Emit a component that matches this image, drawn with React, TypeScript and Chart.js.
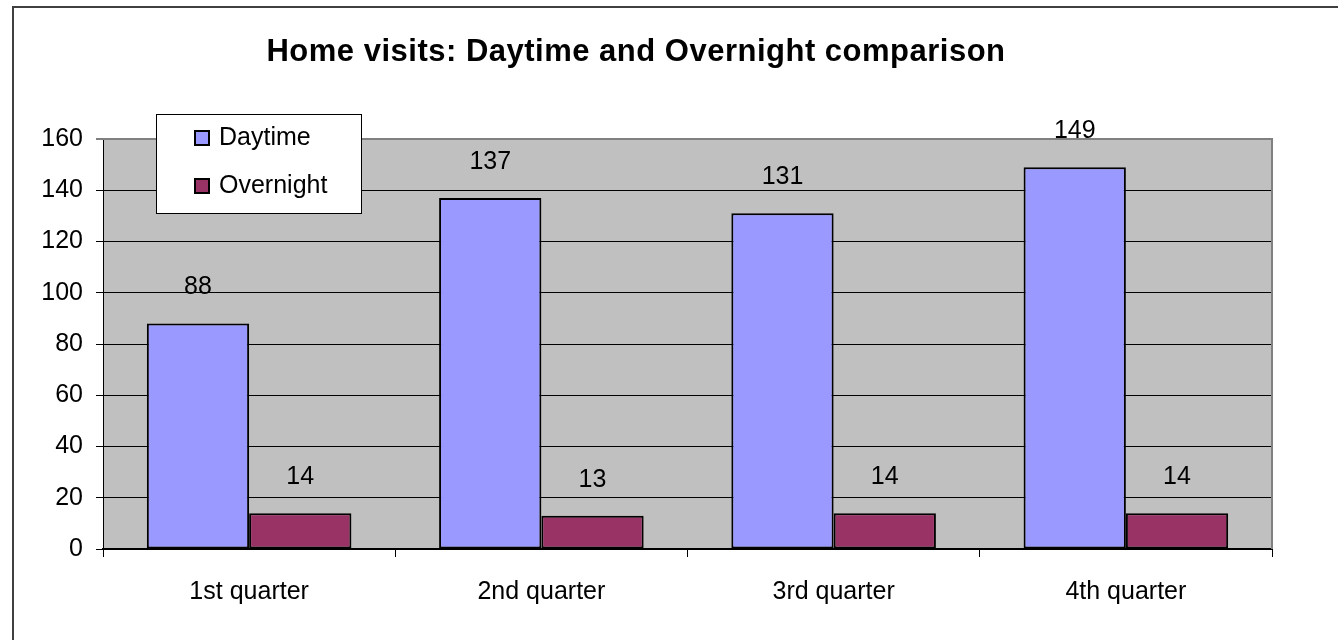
import React, { useEffect, useRef } from "react";
import { Chart, registerables } from "chart.js";

Chart.register(...registerables);

const chartTitle = "Home visits: Daytime and Overnight comparison";
const categories = ["1st quarter", "2nd quarter", "3rd quarter", "4th quarter"];
const seriesNames = ["Daytime", "Overnight"];
const daytimeValues = [88, 137, 131, 149];
const overnightValues = [14, 13, 14, 14];
const seriesColors = ["#9999FF", "#993366"];
const yMin = 0;
const yMax = 160;
const yStep = 20;

const FONT = "'Liberation Sans', Arial, sans-serif";

const decorPlugin = {
  id: "decor",
  beforeDraw(chart: any) {
    const { ctx, chartArea } = chart;
    ctx.save();
    ctx.fillStyle = "#C0C0C0";
    ctx.fillRect(chartArea.left, chartArea.top, chartArea.right - chartArea.left, chartArea.bottom - chartArea.top);
    ctx.restore();
  },
  afterDraw(chart: any) {
    const { ctx, chartArea } = chart;
    ctx.save();
    // plot border (grey) top & right
    ctx.strokeStyle = "#808080";
    ctx.lineWidth = 2;
    ctx.beginPath();
    ctx.moveTo(chartArea.left, chartArea.top);
    ctx.lineTo(chartArea.right, chartArea.top);
    ctx.lineTo(chartArea.right, chartArea.bottom);
    ctx.stroke();

    // outer border
    ctx.strokeStyle = "#404040";
    ctx.lineWidth = 2;
    ctx.strokeRect(13, 7, 1340, 640);

    // title
    ctx.fillStyle = "#000";
    ctx.font = `bold 31px ${FONT}`;
    ctx.textAlign = "center";
    ctx.textBaseline = "middle";
    try {
      (ctx as any).letterSpacing = "0.5px";
    } catch (e) {}
    ctx.fillText(chartTitle, 636, 52);
    try {
      (ctx as any).letterSpacing = "0px";
    } catch (e) {}

    // data labels
    ctx.font = `25px ${FONT}`;
    chart.data.datasets.forEach((ds: any, i: number) => {
      const meta = chart.getDatasetMeta(i);
      meta.data.forEach((el: any, j: number) => {
        ctx.fillText(String(ds.data[j]), el.x, el.y - 36);
      });
    });

    // legend
    ctx.fillStyle = "#FFFFFF";
    ctx.fillRect(156, 114, 205, 99);
    ctx.strokeStyle = "#000";
    ctx.lineWidth = 1;
    ctx.strokeRect(156.5, 114.5, 205, 99);
    const rows = [138, 186];
    seriesNames.forEach((name, i) => {
      const cy = rows[i];
      ctx.fillStyle = seriesColors[i];
      ctx.fillRect(195, cy - 7, 14, 14);
      ctx.strokeStyle = "#000";
      ctx.lineWidth = 2;
      ctx.strokeRect(195, cy - 7, 14, 14);
      ctx.fillStyle = "#000";
      ctx.font = `25px ${FONT}`;
      ctx.textAlign = "left";
      ctx.textBaseline = "middle";
      ctx.fillText(name, 219, cy);
    });
    ctx.restore();
  },
};

export default function App() {
  const canvasRef = useRef<HTMLCanvasElement | null>(null);

  useEffect(() => {
    if (!canvasRef.current) return;
    const chart = new Chart(canvasRef.current, {
      type: "bar",
      data: {
        labels: categories,
        datasets: [
          {
            label: seriesNames[0],
            data: daytimeValues,
            backgroundColor: seriesColors[0],
            borderColor: "#000",
            borderWidth: 2,
            borderSkipped: false,
            barPercentage: 1,
            categoryPercentage: 0.7,
          },
          {
            label: seriesNames[1],
            data: overnightValues,
            backgroundColor: seriesColors[1],
            borderColor: "#000",
            borderWidth: 2,
            borderSkipped: false,
            barPercentage: 1,
            categoryPercentage: 0.7,
          },
        ],
      },
      options: {
        responsive: false,
        animation: false,
        devicePixelRatio: 1,
        layout: { padding: { left: 0, top: 139, right: 66, bottom: 0 } },
        plugins: {
          legend: { display: false },
          title: { display: false },
          tooltip: { enabled: false },
        },
        scales: {
          x: {
            afterFit: (s: any) => {
              s.height = 91;
            },
            grid: {
              offset: true,
              drawOnChartArea: false,
              drawTicks: true,
              tickLength: 8,
              tickColor: "#000",
              color: "#000",
            },
            border: { display: true, color: "#000", width: 2 },
            ticks: {
              color: "#000",
              padding: 20,
              font: { family: FONT, size: 25 },
              maxRotation: 0,
            },
          },
          y: {
            min: yMin,
            max: yMax,
            afterFit: (s: any) => {
              s.width = 103;
            },
            grid: {
              color: (c: any) => (c.tick && c.tick.value === yMax ? "#808080" : "#000"),
              lineWidth: (c: any) => (c.tick && c.tick.value === yMax ? 2 : 1),
              drawTicks: true,
              tickLength: 7,
              tickColor: "#000",
              tickWidth: 1,
            },
            border: { display: true, color: "#000", width: 1 },
            ticks: {
              stepSize: yStep,
              color: "#000",
              padding: 13,
              font: { family: FONT, size: 25 },
            },
          },
        },
      },
      plugins: [decorPlugin],
    });
    return () => chart.destroy();
  }, []);

  return (
    <div style={{ position: "fixed", left: 0, top: 0, width: 1338, height: 640, background: "#fff" }}>
      <canvas ref={canvasRef} width={1338} height={640} style={{ display: "block" }} />
    </div>
  );
}
